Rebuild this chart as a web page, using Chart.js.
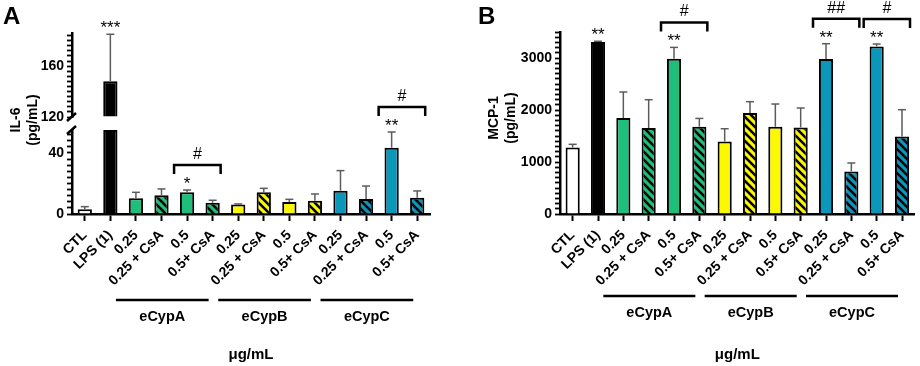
<!DOCTYPE html>
<html>
<head>
<meta charset="utf-8">
<script src="https://cdn.jsdelivr.net/npm/chart.js@4.4.1/dist/chart.umd.min.js"></script>
<style>
  body { margin: 0; background: #fff; width: 920px; height: 366px; overflow: hidden; position: relative; }
  canvas { position: absolute; top: 0; }
  #panelA { left: 0; }
  #panelB { left: 460px; }
</style>
</head>
<body>
<canvas id="panelA" width="460" height="366"></canvas>
<canvas id="panelB" width="460" height="366"></canvas>
<script>
// ---- data ----
const categories = ['CTL', 'LPS (1)', '0.25', '0.25 + CsA', '0.5', '0.5+ CsA',
                    '0.25', '0.25 + CsA', '0.5', '0.5+ CsA',
                    '0.25', '0.25 + CsA', '0.5', '0.5+ CsA'];
const groupNames = ['eCypA', 'eCypB', 'eCypC'];
const groupFirst = [2, 6, 10];
const groupLast = [5, 9, 13];
const unitLabel = 'μg/mL';

// A: IL-6 (pg/mL), mean and SD
const il6Mean = [3.1, 148, 10.3, 12.2, 14.2, 7.4, 6.3, 14.2, 7.9, 8.7, 15.3, 9.8, 43.4, 10.7];
const il6Sd   = [1.7, 37, 3.9, 4.2, 1.5, 1.6, 0.3, 2.6, 1.7, 4.4, 13.1, 8.5, 10.3, 4.4];
const il6Stars = [[1, '***'], [4, '*'], [12, '**']];
const il6Brackets = [[4, 5, '#'], [12, 13, '#']];
const il6TickLabels = [0, 40, 120, 160];
const il6LowRange = [0, 55];
const il6HighRange = [120, 186];

// B: MCP-1 (pg/mL), mean and SD
const mcpMean = [1280, 3307, 1846, 1654, 2987, 1679, 1396, 1942, 1679, 1665, 2981, 819, 3223, 1492];
const mcpSd   = [60, 15, 500, 544, 217, 159, 244, 218, 436, 373, 294, 162, 46, 514];
const mcpStars = [[1, '**'], [4, '**'], [10, '**'], [12, '**']];
const mcpBrackets = [[4, 5, '#'], [10, 11, '##'], [12, 13, '#']];
const mcpTickLabels = [0, 1000, 2000, 3000];
const mcpRange = [0, 3500];

// ---- styling ----
const FONT = '"Liberation Sans", Arial, Helvetica, sans-serif';
Chart.defaults.font.family = FONT;
Chart.defaults.color = '#000';

const groupColors = ['#1dbf7b', '#fbf800', '#0b97b9'];

function hatch(color) {
  const s = 8;
  const c = document.createElement('canvas');
  c.width = s; c.height = s;
  const g = c.getContext('2d');
  g.fillStyle = color;
  g.fillRect(0, 0, s, s);
  g.strokeStyle = '#000';
  g.lineWidth = 2.6;
  g.beginPath();
  g.moveTo(-2, -2); g.lineTo(s + 2, s + 2);
  g.moveTo(-2, s - 2); g.lineTo(2, s + 2);
  g.moveTo(s - 2, -2); g.lineTo(s + 2, 2);
  g.stroke();
  return g.createPattern(c, 'repeat');
}

function barFill(i) {
  if (i === 0) return '#ffffff';
  if (i === 1) return '#000000';
  const k = groupFirst.findIndex((f, j) => i >= f && i <= groupLast[j]);
  return categories[i].includes('CsA') ? hatch(groupColors[k]) : groupColors[k];
}

const barStyle = {
  borderColor: '#000',
  borderWidth: 2,
  grouped: false,
  barPercentage: 0.62,
  categoryPercentage: 0.9
};

function xAxis() {
  return {
    type: 'category',
    border: { color: '#000', width: 2.5 },
    grid: { drawOnChartArea: false, offset: false, tickLength: 7, tickWidth: 2, tickColor: '#000' },
    ticks: { autoSkip: false, minRotation: 45, maxRotation: 45, padding: 6,
             font: { size: 14, weight: 'bold' }, color: '#000' },
    afterFit: s => { s.height = 152; }
  };
}

function yAxis(range, step, labels, width) {
  return {
    type: 'linear',
    position: 'left',
    min: range[0],
    max: range[1],
    border: { color: '#000', width: 2.5 },
    grid: { drawOnChartArea: false, tickLength: 5, tickWidth: 1.8, tickColor: '#000' },
    ticks: {
      stepSize: step, autoSkip: false, includeBounds: false, padding: 3,
      font: { size: 14, weight: 'bold' }, color: '#000',
      callback: v => labels.includes(v) ? String(v) : ''
    },
    afterFit: s => { s.width = width; }
  };
}

function line(ctx, x1, y1, x2, y2) {
  ctx.beginPath(); ctx.moveTo(x1, y1); ctx.lineTo(x2, y2); ctx.stroke();
}

function annotations(p) {
  return {
    id: 'annotations',
    afterDatasetsDraw(chart) {
      const ctx = chart.ctx, xs = chart.scales.x;
      ctx.save();
      ctx.strokeStyle = '#5c5c5c';
      ctx.lineWidth = 1.5;
      p.mean.forEach((m, i) => {
        const px = xs.getPixelForValue(i);
        const y0 = p.toPixel(chart, m);
        const y1 = p.toPixel(chart, m + p.sd[i]);
        line(ctx, px, y0, px, y1);
        line(ctx, px - 4, y1, px + 4, y1);
      });
      ctx.restore();
    },
    afterDraw(chart) {
      const ctx = chart.ctx, xs = chart.scales.x, area = chart.chartArea;
      const topPx = i => p.toPixel(chart, p.mean[i] + p.sd[i]);
      ctx.save();
      ctx.fillStyle = '#000';
      ctx.strokeStyle = '#000';
      ctx.textAlign = 'center';
      ctx.textBaseline = 'alphabetic';

      // significance stars
      ctx.font = '17px ' + FONT;
      p.stars.forEach(([i, s]) => ctx.fillText(s, xs.getPixelForValue(i), topPx(i) - 1));

      // brackets with #
      ctx.lineWidth = 2.5;
      p.brackets.forEach(([a, b, s]) => {
        const y = Math.min(topPx(a), topPx(b)) - 25;
        const l = xs.getPixelForValue(a) - 13, r = xs.getPixelForValue(b) + 8;
        ctx.beginPath();
        ctx.moveTo(l, y + 9); ctx.lineTo(l, y); ctx.lineTo(r, y); ctx.lineTo(r, y + 9);
        ctx.stroke();
        ctx.font = '16px ' + FONT;
        ctx.fillText(s, (l + r) / 2, y - 6);
      });

      // group lines and names
      groupNames.forEach((g, k) => {
        const l = xs.getPixelForValue(groupFirst[k]) - 20;
        const r = xs.getPixelForValue(groupLast[k]) - 4;
        const y = xs.top + p.groupDy;
        ctx.lineWidth = 2.5;
        line(ctx, l, y, r, y);
        ctx.font = 'bold 14.5px ' + FONT;
        ctx.textBaseline = 'middle';
        ctx.fillText(g, (l + r) / 2, y + 17);
      });
      ctx.font = 'bold 15px ' + FONT;
      ctx.textBaseline = 'middle';
      ctx.fillText(unitLabel, (area.left + area.right) / 2, xs.top + 141);

      // y title (two lines, rotated)
      ctx.font = 'bold 14px ' + FONT;
      p.yTitle.forEach((t, k) => {
        ctx.save();
        ctx.translate(p.yTitleX[k], p.yTitleY);
        ctx.rotate(-Math.PI / 2);
        ctx.fillText(t, 0, 0);
        ctx.restore();
      });

      // panel letter
      ctx.textAlign = 'left';
      ctx.textBaseline = 'alphabetic';
      ctx.font = 'bold 24px ' + FONT;
      ctx.fillText(p.letter, p.letterX, 24);

      if (p.extra) p.extra(chart, ctx);
      ctx.restore();
    }
  };
}

const fills = categories.map((_, i) => barFill(i));

// ---- panel A: IL-6 with broken axis ----
const il6Low = yAxis(il6LowRange, 4, il6TickLabels, 72);
Object.assign(il6Low, { stack: 'il6', stackWeight: 84, weight: 1 });
const il6Top = yAxis(il6HighRange, 4, il6TickLabels, 72);
Object.assign(il6Top, { stack: 'il6', stackWeight: 84, weight: 3 });

new Chart(document.getElementById('panelA'), {
  type: 'bar',
  data: {
    labels: categories,
    datasets: [
      Object.assign({ yAxisID: 'y', backgroundColor: fills,
        data: il6Mean.map(v => Math.min(v, il6LowRange[1])) }, barStyle),
      Object.assign({ yAxisID: 'yTop', backgroundColor: fills, base: il6HighRange[0],
        data: il6Mean.map(v => v > il6HighRange[0] ? v : null) }, barStyle)
    ]
  },
  options: {
    responsive: false,
    devicePixelRatio: 1,
    animation: false,
    events: [],
    layout: { padding: { top: 33, right: 30, left: 0, bottom: 0 } },
    plugins: { legend: { display: false }, tooltip: { enabled: false } },
    scales: {
      x: xAxis(),
      y: il6Low,
      yGap: {
        type: 'linear', position: 'left', stack: 'il6', stackWeight: 13, weight: 2,
        border: { display: false }, grid: { display: false }, ticks: { display: false },
        afterFit: s => { s.width = 72; }
      },
      yTop: il6Top
    }
  },
  plugins: [annotations({
    mean: il6Mean, sd: il6Sd, stars: il6Stars, brackets: il6Brackets,
    toPixel: (chart, v) => v > il6LowRange[1]
      ? chart.scales.yTop.getPixelForValue(v)
      : chart.scales.y.getPixelForValue(v),
    groupDy: 86,
    yTitle: ['IL-6', '(pg/mL)'], yTitleX: [16, 33], yTitleY: 120,
    letter: 'A', letterX: 3,
    extra: (chart, ctx) => {
      const x = chart.chartArea.left;
      ctx.lineWidth = 2.5;
      [chart.scales.yTop.bottom, chart.scales.y.top].forEach(y => line(ctx, x - 5, y + 4, x + 4, y - 4));
    }
  })]
});

// ---- panel B: MCP-1 ----
new Chart(document.getElementById('panelB'), {
  type: 'bar',
  data: {
    labels: categories,
    datasets: [
      Object.assign({ backgroundColor: fills, data: mcpMean }, barStyle)
    ]
  },
  options: {
    responsive: false,
    devicePixelRatio: 1,
    animation: false,
    events: [],
    layout: { padding: { top: 32, right: 3, left: 0, bottom: 0 } },
    plugins: { legend: { display: false }, tooltip: { enabled: false } },
    scales: {
      x: xAxis(),
      y: yAxis(mcpRange, 100, mcpTickLabels, 100)
    }
  },
  plugins: [annotations({
    mean: mcpMean, sd: mcpSd, stars: mcpStars, brackets: mcpBrackets,
    toPixel: (chart, v) => chart.scales.y.getPixelForValue(v),
    groupDy: 82,
    yTitle: ['MCP-1', '(pg/mL)'], yTitleX: [34, 51], yTitleY: 118,
    letter: 'B', letterX: 18
  })]
});
</script>
</body>
</html>
